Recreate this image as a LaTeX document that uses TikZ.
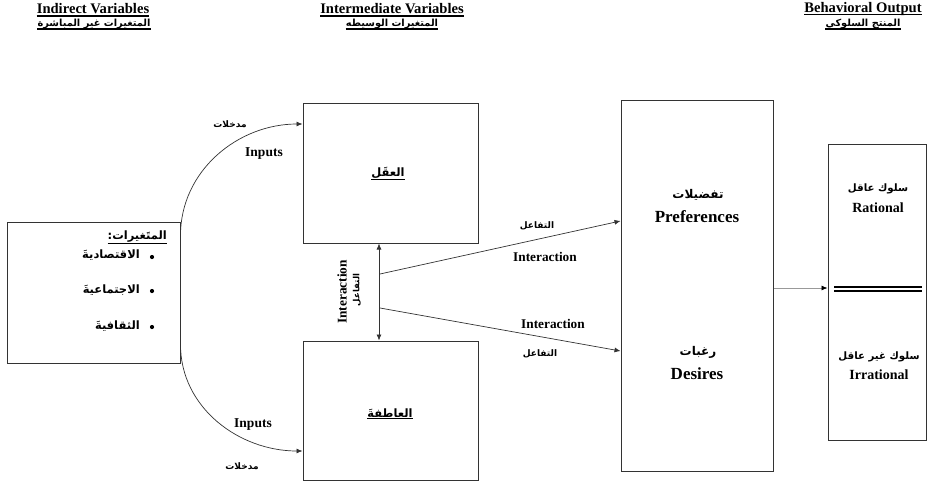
\documentclass[tikz,border=0pt]{standalone}
\usepackage{fontspec}
\setmainfont{Liberation Serif}
\newfontfamily\arabicfont[Script=Arabic]{DejaVu Sans}
\TeXXeTstate=1
\usetikzlibrary{arrows.meta}
\newcommand\AR[1]{{\arabicfont\bfseries\beginR #1\endR}}
\definecolor{edge}{HTML}{333333}
\tikzset{
  box/.style={draw=edge, line width=1pt, inner sep=0pt, fill=white},
  txt/.style={inner sep=0pt, font=\bfseries},
  hd/.style={txt, font=\fontsize{14.6}{16}\selectfont\bfseries},
  arh/.style={inner sep=0pt, font=\fontsize{9.8}{11}\selectfont},
  arm/.style={inner sep=0pt, font=\fontsize{11.5}{13}\selectfont},
  arr/.style={inner sep=0pt, font=\fontsize{10.2}{12}\selectfont},
  ars/.style={inner sep=0pt, font=\fontsize{9}{10}\selectfont},
  uline/.style={line width=1.3pt, black},
  conn/.style={draw=edge, line width=0.7pt, -{Latex[length=6pt,width=5pt]}},
  dot/.style={circle, fill=black, inner sep=0pt, minimum size=4.2pt}
}
\begin{document}
\begin{tikzpicture}[x=1pt,y=1pt]
\useasboundingbox (0,0) rectangle (929,-485);

% headers
\node[hd] (h1) at (93,-9) {Indirect Variables};
\node[arh] (h1a) at (94,-23.5) {\AR{المتغيرات غير المباشرة}};
\node[hd] (h2) at (392,-9) {Intermediate Variables};
\node[arh] (h2a) at (392,-23.5) {\AR{المتغيرات الوسيطه}};
\node[hd] (h3) at (863,-9) {Behavioral Output};
\node[arh] (h3a) at (863,-23.5) {\AR{المنتج السلوكي}};
\foreach \n in {h1,h2,h3}{
  \draw[uline] ([yshift=-2pt]\n.base west) -- ([yshift=-2pt]\n.base east);
}
\foreach \n in {h1a,h2a,h3a}{
  \draw[uline] ([yshift=-0.5pt]\n.south west) -- ([yshift=-0.5pt]\n.south east);
}

% boxes
\node[box, minimum width=173pt, minimum height=141pt] (lb) at (93.5,-292.5) {};
\node[box, minimum width=175pt, minimum height=140pt] (tm) at (390.5,-173) {};
\node[box, minimum width=175pt, minimum height=139pt] (bm) at (390.5,-410.5) {};
\node[box, minimum width=152pt, minimum height=371pt] (rm) at (697,-285.5) {};
\node[box, minimum width=98pt, minimum height=296pt] (rb) at (877,-292) {};

% left box contents
\node[arm, anchor=east] (lt) at (167,-237) {\AR{المتَغيرات:}};
\draw[line width=1pt] ([yshift=-0.5pt]lt.south west) -- ([yshift=-0.5pt]lt.south east);
\node[dot] (d1) at (152,-257) {};
\node[dot] (d2) at (152,-291) {};
\node[dot] (d3) at (152,-327) {};
\node[arm, anchor=east] (l1) at (140,-255) {\AR{الاقتصاديةَ}};
\node[arm, anchor=east] (l2) at (140,-290) {\AR{الاجتماعيةَ}};
\node[arm, anchor=east] (l3) at (140,-326) {\AR{الثقافيةَ}};

% middle boxes text
\node[arm] (aql) at (388,-173) {\AR{العقَل}};
\draw[line width=1pt] ([yshift=-0.5pt]aql.south west) -- ([yshift=-0.5pt]aql.south east);
\node[arm] (atf) at (390,-413) {\AR{العاطفةَ}};
\draw[line width=1pt] ([yshift=-0.5pt]atf.south west) -- ([yshift=-0.5pt]atf.south east);

% right-middle box text
\node[arm, font=\fontsize{12}{13}\selectfont] (pa) at (698,-195) {\AR{تفضيلات}};
\node[txt, font=\fontsize{17}{19}\selectfont\bfseries] (pe) at (697,-217) {Preferences};
\node[arm, font=\fontsize{12}{13}\selectfont] (da) at (698,-352) {\AR{رغبات}};
\node[txt, font=\fontsize{17}{19}\selectfont\bfseries] (de) at (697,-374) {Desires};

% right box text
\node[arr] (ra) at (878,-189) {\AR{سلوك عاقل}};
\node[txt, font=\fontsize{14}{16}\selectfont\bfseries] (re) at (878,-208) {Rational};
\node[arr] (ia) at (879,-357) {\AR{سلوك غير عاقل}};
\node[txt, font=\fontsize{14}{16}\selectfont\bfseries] (ie) at (879,-375) {Irrational};
\draw[line width=1.8pt] (834,-287) -- (922,-287);
\draw[line width=1.8pt] (834,-291) -- (922,-291);

% input curves
\draw[conn] ([yshift=57pt]lb.east) to[out=90,in=180] ([yshift=49pt]tm.west);
\draw[conn] ([yshift=-52pt]lb.east) to[out=-90,in=180] ([yshift=-40.5pt]bm.west);
\node[ars] (m1) at (230,-124) {\AR{مدخلات}};
\node[txt, font=\fontsize{13.5}{15}\selectfont\bfseries] (in1) at (264,-154) {Inputs};
\node[txt, font=\fontsize{13.5}{15}\selectfont\bfseries] (in2) at (253,-425) {Inputs};
\node[ars] (m2) at (242,-466) {\AR{مدخلات}};

% interaction vertical
\draw[draw=edge, line width=0.7pt, {Latex[length=6pt,width=5pt]}-{Latex[length=6pt,width=5pt]}]
  ([xshift=-11.5pt]tm.south) -- ([xshift=-11.5pt]bm.north);
\node[txt, rotate=90, font=\fontsize{13.3}{15}\selectfont\bfseries] (iv) at (342,-292) {Interaction};
\node[ars, rotate=90, font=\fontsize{8.5}{10}\selectfont] (iva) at (357,-290) {\AR{التفاعل}};

\coordinate (v1) at (380,-274);
\coordinate (v2) at (380,-308);
\draw[conn] (v1) -- ([yshift=64.5pt]rm.west);
\draw[conn] (v2) -- ([yshift=-65.5pt]rm.west);
\node[ars] (t1) at (537,-226) {\AR{التفاعل}};
\node[txt, font=\fontsize{13.3}{15}\selectfont\bfseries] (i1) at (545,-257) {Interaction};
\node[txt, font=\fontsize{13.3}{15}\selectfont\bfseries] (i2) at (553,-324) {Interaction};
\node[ars] (t2) at (540,-354) {\AR{التفاعل}};

% output arrow
\draw[draw=gray!80, line width=0.7pt, -{Latex[length=6pt,width=5pt,fill=black,color=black]}]
  ([yshift=-2.5pt]rm.east) -- ([yshift=-2.5pt]rm.east -| rb.west);
\end{tikzpicture}
\end{document}
